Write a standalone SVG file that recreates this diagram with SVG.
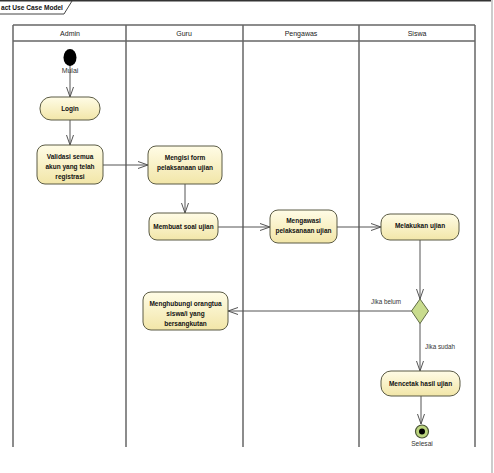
<svg xmlns="http://www.w3.org/2000/svg" width="494" height="473" viewBox="0 0 494 473">
<style>
.lane{stroke:#666;stroke-width:1.5;fill:none}
.hdr{font-family:"Liberation Sans",Arial,sans-serif;font-size:7px;fill:#222;text-anchor:middle}
.node rect{fill:url(#g);stroke:#5b5b45;stroke-width:1}
.nt{font-family:"Liberation Sans",Arial,sans-serif;font-size:6.5px;font-weight:bold;fill:#111;text-anchor:middle}
.lbl{font-family:"Liberation Sans",Arial,sans-serif;font-size:6.3px;fill:#333}
.edge{stroke:#555;stroke-width:1;fill:none;marker-end:url(#arr)}
</style>
<defs>
<linearGradient id="g" x1="0" y1="0" x2="0" y2="1">
<stop offset="0" stop-color="#fffce6"/>
<stop offset="1" stop-color="#f2e6a8"/>
</linearGradient>
<marker id="arr" viewBox="-1 -5 12 10" refX="10" refY="0" markerWidth="12" markerHeight="10" markerUnits="userSpaceOnUse" orient="auto">
<path d="M0,-3.5 L10,0 L0,3.5" fill="none" stroke="#555" stroke-width="1"/>
</marker>
</defs>
<rect width="494" height="473" fill="#fff"/>
<g id="frame">
<line x1="0" y1="0.8" x2="491" y2="0.8" stroke="#333" stroke-width="1.6"/>
<line x1="492" y1="0" x2="492" y2="473" stroke="#aaa" stroke-width="1.2"/>
<path d="M0,14 H64 L72,1" fill="none" stroke="#444" stroke-width="1"/>
<text x="1" y="10" font-family="'Liberation Sans',Arial,sans-serif" font-size="6.6" font-weight="bold" fill="#111">act Use Case Model</text>
</g>
<g id="swimlanes">
<line class="lane" x1="13" y1="25" x2="475" y2="25"/>
<line class="lane" x1="13" y1="41" x2="475" y2="41"/>
<line class="lane" x1="13" y1="25" x2="13" y2="447"/>
<line class="lane" x1="126" y1="25" x2="126" y2="447"/>
<line class="lane" x1="243" y1="25" x2="243" y2="447"/>
<line class="lane" x1="359" y1="25" x2="359" y2="447"/>
<line class="lane" x1="475" y1="25" x2="475" y2="447"/>
<text class="hdr" x="70" y="35.5">Admin</text>
<text class="hdr" x="184" y="35.5">Guru</text>
<text class="hdr" x="301" y="35.5">Pengawas</text>
<text class="hdr" x="417" y="35.5">Siswa</text>
</g>
<g id="connectors">
<line class="edge" x1="70" y1="64" x2="70" y2="97"/>
<line class="edge" x1="70" y1="120" x2="70" y2="145"/>
<line class="edge" x1="103" y1="165" x2="148" y2="165"/>
<line class="edge" x1="185" y1="184" x2="185" y2="213"/>
<line class="edge" x1="218" y1="227" x2="270" y2="227"/>
<line class="edge" x1="337" y1="227" x2="381" y2="227"/>
<line class="edge" x1="420" y1="240" x2="420" y2="299"/>
<line class="edge" x1="412" y1="311" x2="228" y2="311"/>
<line class="edge" x1="420" y1="323" x2="420" y2="371"/>
<line class="edge" x1="421" y1="396" x2="421" y2="424"/>
<text class="lbl" x="371" y="304">Jika belum</text>
<text class="lbl" x="425" y="349">Jika sudah</text>
</g>
<g id="start">
<ellipse cx="70" cy="57.5" rx="6.5" ry="8.5" fill="#000"/>
<text x="70" y="73" font-family="'Liberation Sans',Arial,sans-serif" font-size="7" fill="#333" text-anchor="middle">Mulai</text>
</g>
<g id="login" class="node">
<rect x="40" y="97" width="60" height="23" rx="11" ry="11"/>
<text class="nt" x="70" y="110.5">Login</text>
</g>
<g id="validasi" class="node">
<rect x="37" y="145" width="66" height="39" rx="8" ry="8"/>
<text class="nt" x="70" y="159">Validasi semua</text>
<text class="nt" x="70" y="169">akun yang telah</text>
<text class="nt" x="70" y="179">registrasi</text>
</g>
<g id="mengisi" class="node">
<rect x="148" y="146" width="74" height="38" rx="8" ry="8"/>
<text class="nt" x="185" y="160">Mengisi form</text>
<text class="nt" x="185" y="169.5">pelaksanaan ujian</text>
</g>
<g id="membuat" class="node">
<rect x="149" y="213" width="69" height="27" rx="8" ry="8"/>
<text class="nt" x="183.5" y="228.5">Membuat soal ujian</text>
</g>
<g id="mengawasi" class="node">
<rect x="270" y="210" width="67" height="33" rx="8" ry="8"/>
<text class="nt" x="303.5" y="223">Mengawasi</text>
<text class="nt" x="303.5" y="232.5">pelaksanaan ujian</text>
</g>
<g id="melakukan" class="node">
<rect x="381" y="214" width="78" height="26" rx="9" ry="9"/>
<text class="nt" x="420" y="227.5">Melakukan ujian</text>
</g>
<g id="decision">
<polygon points="420,299 428.5,311 420,323.5 411.5,311" fill="#c9dc8e" stroke="#5f6b45" stroke-width="1"/>
</g>
<g id="menghubungi" class="node">
<rect x="143" y="292" width="85" height="38" rx="8" ry="8"/>
<text class="nt" x="185.5" y="305.5">Menghubungi orangtua</text>
<text class="nt" x="185.5" y="315.5">siswa/i yang</text>
<text class="nt" x="185.5" y="325.5">bersangkutan</text>
</g>
<g id="mencetak" class="node">
<rect x="381" y="371" width="79" height="25" rx="10" ry="10"/>
<text class="nt" x="420.5" y="385.5">Mencetak hasil ujian</text>
</g>
<g id="end">
<circle cx="422" cy="431.5" r="6.5" fill="#bcd57f" stroke="#4a5535" stroke-width="1.2"/>
<circle cx="422" cy="431.5" r="3" fill="#000"/>
<text x="422" y="446" font-family="'Liberation Sans',Arial,sans-serif" font-size="6.6" fill="#333" text-anchor="middle">Selesai</text>
</g>
</svg>
